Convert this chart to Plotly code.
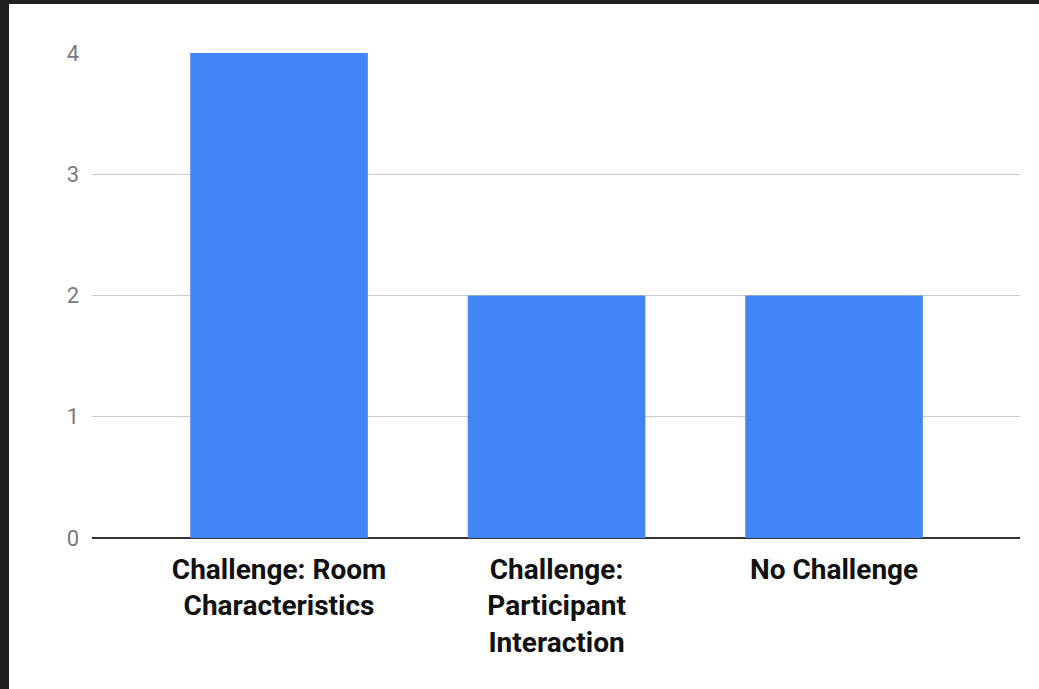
import plotly.graph_objects as go

categories = ["Challenge: Room<br>Characteristics", "Challenge:<br>Participant<br>Interaction", "No Challenge"]
values = [4, 2, 2]
y_ticks = [0, 1, 2, 3, 4]

W, H = 1039, 689
ml, mr, mt, mb = 92, 19, 53, 151
pw, ph = W - ml - mr, H - mt - mb

fig = go.Figure(go.Bar(
    x=[0, 1, 2], y=values, width=0.64,
    marker=dict(color="#4285F4", line=dict(width=0)),
))

fig.update_layout(
    width=W, height=H,
    margin=dict(l=ml, r=mr, t=mt, b=mb),
    paper_bgcolor="white", plot_bgcolor="white",
    showlegend=False,
    font=dict(family="Roboto"),
    xaxis=dict(
        range=[-0.674, 2.67],
        tickmode="array", tickvals=[0, 1, 2], ticktext=categories,
        tickfont=dict(family="Roboto", size=28, color="#111111", weight="bold"),
        showgrid=False, zeroline=False, showline=False, ticks="",
        ticklabelstandoff=12,
    ),
    yaxis=dict(
        range=[0, 4],
        tickmode="array", tickvals=y_ticks,
        tickfont=dict(family="Roboto", size=22, color="#7a7a7a"),
        showgrid=True, gridcolor="#cccccc", gridwidth=1,
        zeroline=True, zerolinecolor="#333333", zerolinewidth=2,
        showline=False, ticks="", ticklabelstandoff=12,
    ),
    shapes=[
        dict(type="rect", xref="paper", yref="paper",
             x0=-ml / pw, x1=-(ml - 9) / pw, y0=-mb / ph, y1=1 + mt / ph,
             fillcolor="#202020", line=dict(width=0), layer="above"),
        dict(type="rect", xref="paper", yref="paper",
             x0=-ml / pw, x1=1 + mr / pw, y0=1 + (mt - 4) / ph, y1=1 + mt / ph,
             fillcolor="#202020", line=dict(width=0), layer="above"),
    ],
)

fig.write_html("out.html")
